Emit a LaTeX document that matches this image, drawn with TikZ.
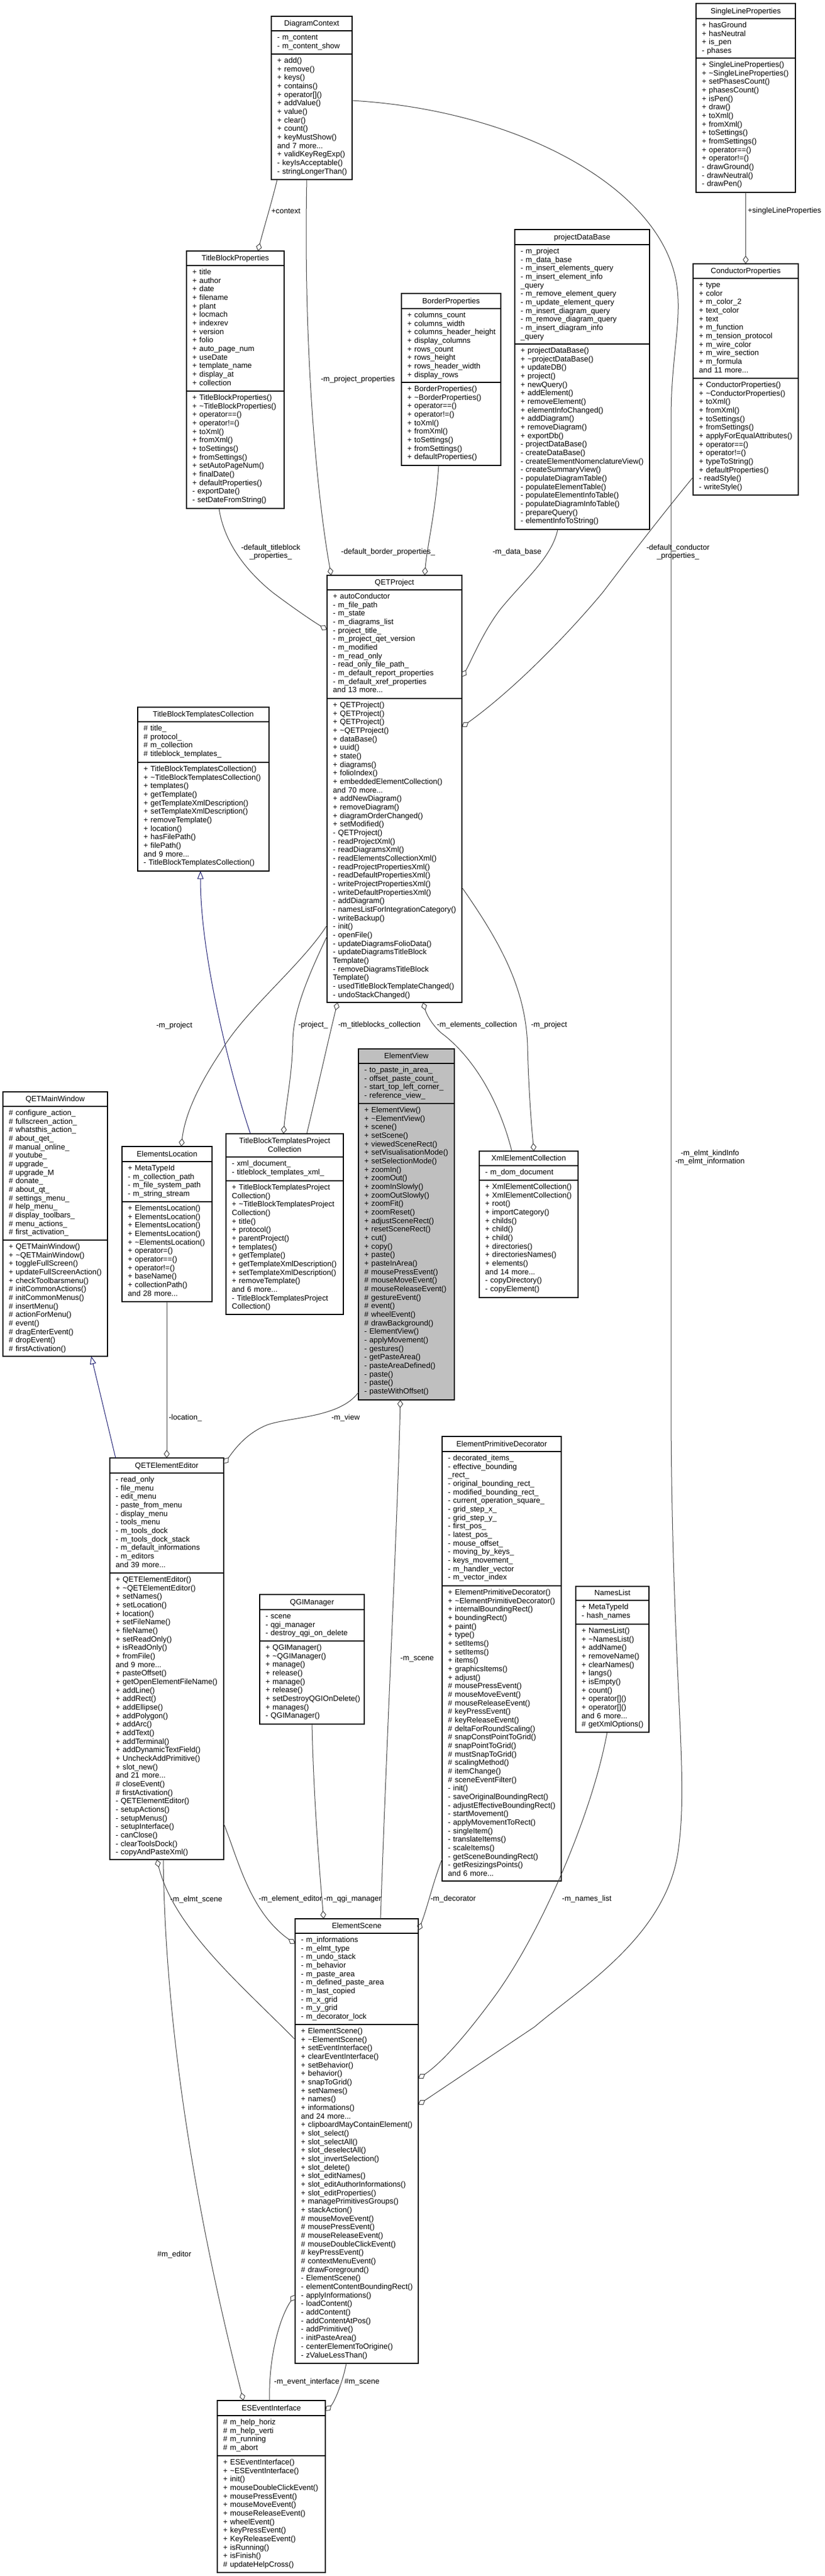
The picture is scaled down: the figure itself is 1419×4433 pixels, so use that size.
\documentclass[tikz,border=0pt]{standalone}
\usepackage{fontspec}
\setmainfont{Liberation Sans}
\usetikzlibrary{arrows.meta}
\definecolor{edgec}{HTML}{404040}
\definecolor{navyc}{HTML}{191970}
\definecolor{evgray}{HTML}{BFBFBF}
\newcommand\dfont{\fontsize{13.1pt}{14.67pt}\selectfont}
\newcommand\tld{\textasciitilde}
\tikzset{
  umlframe/.style={draw=black, line width=1.2pt, inner sep=0pt, outer sep=0pt},
  sepline/.style={draw=black, line width=1.2pt},
  ttl/.style={font=\dfont, inner sep=0pt, align=center},
  lines/.style={font=\dfont, inner sep=0pt, text width=320pt, align=left},
  lbl/.style={font=\dfont, inner sep=0pt, align=center},
  agg/.style={draw=edgec, line width=1pt, -{Diamond[open, length=14pt, width=10pt]}},
  inh/.style={draw=navyc, line width=1pt, -{Triangle[open, length=13.5pt, width=10.5pt]}}
}
% name, fill, x1, y1, x2, y2, sep1, sep2
\newcommand{\ubox}[8]{%
  \pgfmathsetmacro\bw{#5-#3}\pgfmathsetmacro\bh{#6-#4}%
  \pgfmathsetmacro\bx{(#3+#5)/2}\pgfmathsetmacro\by{(#4+#6)/2}%
  \node[umlframe, fill=#2, minimum width=\bw pt, minimum height=\bh pt] (#1) at (\bx,\by) {};
  \draw[sepline] (#3,#7) -- (#5,#7);
  \draw[sepline] (#3,#8) -- (#5,#8);
}
% name, x1, x2, baseline, text
\newcommand{\utitle}[5]{%
  \pgfmathsetmacro\tcx{(#2+#3)/2}\pgfmathsetmacro\tw{#3-#2}%
  \node[ttl, text width=\tw pt, anchor=base] (#1) at (\tcx,#4) {#5};
}
% name, x, first baseline, text
\newcommand{\ulines}[4]{\node[lines, anchor=base west] (#1) at (#2,#3) {#4};}

\begin{document}
\begin{tikzpicture}[x=1pt, y=-1pt]
\fill[white] (0,0) rectangle (1419,4433);
\useasboundingbox (0,0) rectangle (1419,4433);

% ---------------- DiagramContext
\ubox{dc}{white}{467}{28}{606}{309}{53}{93}
\utitle{dcT}{467}{606}{44.5}{DiagramContext}
\ulines{dcA}{477}{68.5}{- m\_content\\- m\_content\_show}
\ulines{dcM}{477}{108.5}{+ add()\\+ remove()\\+ keys()\\+ contains()\\+ operator[]()\\+ addValue()\\+ value()\\+ clear()\\+ count()\\+ keyMustShow()\\and 7 more...\\+ validKeyRegExp()\\- keyIsAcceptable()\\- stringLongerThan()}

% ---------------- SingleLineProperties
\ubox{slp}{white}{1198}{6}{1369}{331}{32}{100}
\utitle{slpT}{1198}{1369}{23.5}{SingleLineProperties}
\ulines{slpA}{1208}{47.5}{+ hasGround\\+ hasNeutral\\+ is\_pen\\- phases}
\ulines{slpM}{1208}{115.5}{+ SingleLineProperties()\\+ \tld SingleLineProperties()\\+ setPhasesCount()\\+ phasesCount()\\+ isPen()\\+ draw()\\+ toXml()\\+ fromXml()\\+ toSettings()\\+ fromSettings()\\+ operator==()\\+ operator!=()\\- drawGround()\\- drawNeutral()\\- drawPen()}

% ---------------- TitleBlockProperties
\ubox{tbp}{white}{321}{432}{489}{875}{457}{673}
\utitle{tbpT}{321}{489}{448.5}{TitleBlockProperties}
\ulines{tbpA}{331}{472.5}{+ title\\+ author\\+ date\\+ filename\\+ plant\\+ locmach\\+ indexrev\\+ version\\+ folio\\+ auto\_page\_num\\+ useDate\\+ template\_name\\+ display\_at\\+ collection}
\ulines{tbpM}{331}{688.5}{+ TitleBlockProperties()\\+ \tld TitleBlockProperties()\\+ operator==()\\+ operator!=()\\+ toXml()\\+ fromXml()\\+ toSettings()\\+ fromSettings()\\+ setAutoPageNum()\\+ finalDate()\\+ defaultProperties()\\- exportDate()\\- setDateFromString()}

% ---------------- BorderProperties
\ubox{bp}{white}{691}{505}{862}{801}{531}{658}
\utitle{bpT}{691}{862}{522.5}{BorderProperties}
\ulines{bpA}{701}{546.5}{+ columns\_count\\+ columns\_width\\+ columns\_header\_height\\+ display\_columns\\+ rows\_count\\+ rows\_height\\+ rows\_header\_width\\+ display\_rows}
\ulines{bpM}{701}{673.5}{+ BorderProperties()\\+ \tld BorderProperties()\\+ operator==()\\+ operator!=()\\+ toXml()\\+ fromXml()\\+ toSettings()\\+ fromSettings()\\+ defaultProperties()}

% ---------------- projectDataBase
\ubox{pdb}{white}{886}{395}{1118}{911}{421}{592}
\utitle{pdbT}{886}{1118}{412.5}{projectDataBase}
\ulines{pdbA}{896}{436.5}{- m\_project\\- m\_data\_base\\- m\_insert\_elements\_query\\- m\_insert\_element\_info\\\_query\\- m\_remove\_element\_query\\- m\_update\_element\_query\\- m\_insert\_diagram\_query\\- m\_remove\_diagram\_query\\- m\_insert\_diagram\_info\\\_query}
\ulines{pdbM}{896}{607.5}{+ projectDataBase()\\+ \tld projectDataBase()\\+ updateDB()\\+ project()\\+ newQuery()\\+ addElement()\\+ removeElement()\\+ elementInfoChanged()\\+ addDiagram()\\+ removeDiagram()\\+ exportDb()\\- projectDataBase()\\- createDataBase()\\- createElementNomenclatureView()\\- createSummaryView()\\- populateDiagramTable()\\- populateElementTable()\\- populateElementInfoTable()\\- populateDiagramInfoTable()\\- prepareQuery()\\- elementInfoToString()}

% ---------------- ConductorProperties
\ubox{cp}{white}{1193}{454}{1374}{852}{479}{651}
\utitle{cpT}{1193}{1374}{470.5}{ConductorProperties}
\ulines{cpA}{1203}{494.5}{+ type\\+ color\\+ m\_color\_2\\+ text\_color\\+ text\\+ m\_function\\+ m\_tension\_protocol\\+ m\_wire\_color\\+ m\_wire\_section\\+ m\_formula\\and 11 more...}
\ulines{cpM}{1203}{666.5}{+ ConductorProperties()\\+ \tld ConductorProperties()\\+ toXml()\\+ fromXml()\\+ toSettings()\\+ fromSettings()\\+ applyForEqualAttributes()\\+ operator==()\\+ operator!=()\\+ typeToString()\\+ defaultProperties()\\- readStyle()\\- writeStyle()}

% ---------------- QETProject
\ubox{qp}{white}{563}{990}{795}{1725}{1015}{1202}
\utitle{qpT}{563}{795}{1006.5}{QETProject}
\ulines{qpA}{573}{1030.5}{+ autoConductor\\- m\_file\_path\\- m\_state\\- m\_diagrams\_list\\- project\_title\_\\- m\_project\_qet\_version\\- m\_modified\\- m\_read\_only\\- read\_only\_file\_path\_\\- m\_default\_report\_properties\\- m\_default\_xref\_properties\\and 13 more...}
\ulines{qpM}{573}{1217.5}{+ QETProject()\\+ QETProject()\\+ QETProject()\\+ \tld QETProject()\\+ dataBase()\\+ uuid()\\+ state()\\+ diagrams()\\+ folioIndex()\\+ embeddedElementCollection()\\and 70 more...\\+ addNewDiagram()\\+ removeDiagram()\\+ diagramOrderChanged()\\+ setModified()\\- QETProject()\\- readProjectXml()\\- readDiagramsXml()\\- readElementsCollectionXml()\\- readProjectPropertiesXml()\\- readDefaultPropertiesXml()\\- writeProjectPropertiesXml()\\- writeDefaultPropertiesXml()\\- addDiagram()\\- namesListForIntegrationCategory()\\- writeBackup()\\- init()\\- openFile()\\- updateDiagramsFolioData()\\- updateDiagramsTitleBlock\\Template()\\- removeDiagramsTitleBlock\\Template()\\- usedTitleBlockTemplateChanged()\\- undoStackChanged()}

% ---------------- TitleBlockTemplatesCollection
\ubox{tbtc}{white}{237}{1217}{463}{1499}{1242}{1312}
\utitle{tbtcT}{237}{463}{1233.5}{TitleBlockTemplatesCollection}
\ulines{tbtcA}{247}{1257.5}{\# title\_\\\# protocol\_\\\# m\_collection\\\# titleblock\_templates\_}
\ulines{tbtcM}{247}{1327.5}{+ TitleBlockTemplatesCollection()\\+ \tld TitleBlockTemplatesCollection()\\+ templates()\\+ getTemplate()\\+ getTemplateXmlDescription()\\+ setTemplateXmlDescription()\\+ removeTemplate()\\+ location()\\+ hasFilePath()\\+ filePath()\\and 9 more...\\- TitleBlockTemplatesCollection()}

% ---------------- QETMainWindow
\ubox{qmw}{white}{5}{1879}{185}{2334}{1904}{2134}
\utitle{qmwT}{5}{185}{1895.5}{QETMainWindow}
\ulines{qmwA}{15}{1919.5}{\# configure\_action\_\\\# fullscreen\_action\_\\\# whatsthis\_action\_\\\# about\_qet\_\\\# manual\_online\_\\\# youtube\_\\\# upgrade\_\\\# upgrade\_M\\\# donate\_\\\# about\_qt\_\\\# settings\_menu\_\\\# help\_menu\_\\\# display\_toolbars\_\\\# menu\_actions\_\\\# first\_activation\_}
\ulines{qmwM}{15}{2149.5}{+ QETMainWindow()\\+ \tld QETMainWindow()\\+ toggleFullScreen()\\+ updateFullScreenAction()\\+ checkToolbarsmenu()\\\# initCommonActions()\\\# initCommonMenus()\\\# insertMenu()\\\# actionForMenu()\\\# event()\\\# dragEnterEvent()\\\# dropEvent()\\\# firstActivation()}

% ---------------- ElementsLocation
\ubox{el}{white}{210}{1973}{365}{2240}{1999}{2068}
\utitle{elT}{210}{365}{1990.5}{ElementsLocation}
\ulines{elA}{220}{2014.5}{+ MetaTypeId\\- m\_collection\_path\\- m\_file\_system\_path\\- m\_string\_stream}
\ulines{elM}{220}{2083.5}{+ ElementsLocation()\\+ ElementsLocation()\\+ ElementsLocation()\\+ ElementsLocation()\\+ \tld ElementsLocation()\\+ operator=()\\+ operator==()\\+ operator!=()\\+ baseName()\\+ collectionPath()\\and 28 more...}

% ---------------- TitleBlockTemplatesProjectCollection
\ubox{tbtpc}{white}{389}{1951}{591}{2262}{1991}{2032}
\utitle{tbtpcT}{389}{591}{1967.8}{TitleBlockTemplatesProject\\Collection}
\ulines{tbtpcA}{399}{2006.5}{- xml\_document\_\\- titleblock\_templates\_xml\_}
\ulines{tbtpcM}{399}{2047.5}{+ TitleBlockTemplatesProject\\Collection()\\+ \tld TitleBlockTemplatesProject\\Collection()\\+ title()\\+ protocol()\\+ parentProject()\\+ templates()\\+ getTemplate()\\+ getTemplateXmlDescription()\\+ setTemplateXmlDescription()\\+ removeTemplate()\\and 6 more...\\- TitleBlockTemplatesProject\\Collection()}

% ---------------- ElementView
\ubox{ev}{evgray}{617}{1805}{782}{2409}{1830}{1899}
\utitle{evT}{617}{782}{1821.5}{ElementView}
\ulines{evA}{627}{1845.5}{- to\_paste\_in\_area\_\\- offset\_paste\_count\_\\- start\_top\_left\_corner\_\\- reference\_view\_}
\ulines{evM}{627}{1914.5}{+ ElementView()\\+ \tld ElementView()\\+ scene()\\+ setScene()\\+ viewedSceneRect()\\+ setVisualisationMode()\\+ setSelectionMode()\\+ zoomIn()\\+ zoomOut()\\+ zoomInSlowly()\\+ zoomOutSlowly()\\+ zoomFit()\\+ zoomReset()\\+ adjustSceneRect()\\+ resetSceneRect()\\+ cut()\\+ copy()\\+ paste()\\+ pasteInArea()\\\# mousePressEvent()\\\# mouseMoveEvent()\\\# mouseReleaseEvent()\\\# gestureEvent()\\\# event()\\\# wheelEvent()\\\# drawBackground()\\- ElementView()\\- applyMovement()\\- gestures()\\- getPasteArea()\\- pasteAreaDefined()\\- paste()\\- paste()\\- pasteWithOffset()}

% ---------------- XmlElementCollection
\ubox{xec}{white}{825}{1981}{995}{2233}{2006}{2031}
\utitle{xecT}{825}{995}{1997.5}{XmlElementCollection}
\ulines{xecA}{835}{2021.5}{- m\_dom\_document}
\ulines{xecM}{835}{2046.5}{+ XmlElementCollection()\\+ XmlElementCollection()\\+ root()\\+ importCategory()\\+ childs()\\+ child()\\+ child()\\+ directories()\\+ directoriesNames()\\+ elements()\\and 14 more...\\- copyDirectory()\\- copyElement()}

% ---------------- QETElementEditor
\ubox{qee}{white}{189}{2509}{385}{3200}{2535}{2707}
\utitle{qeeT}{189}{385}{2526.5}{QETElementEditor}
\ulines{qeeA}{199}{2550.5}{- read\_only\\- file\_menu\\- edit\_menu\\- paste\_from\_menu\\- display\_menu\\- tools\_menu\\- m\_tools\_dock\\- m\_tools\_dock\_stack\\- m\_default\_informations\\- m\_editors\\and 39 more...}
\ulines{qeeM}{199}{2722.5}{+ QETElementEditor()\\+ \tld QETElementEditor()\\+ setNames()\\+ setLocation()\\+ location()\\+ setFileName()\\+ fileName()\\+ setReadOnly()\\+ isReadOnly()\\+ fromFile()\\and 9 more...\\+ pasteOffset()\\+ getOpenElementFileName()\\+ addLine()\\+ addRect()\\+ addEllipse()\\+ addPolygon()\\+ addArc()\\+ addText()\\+ addTerminal()\\+ addDynamicTextField()\\+ UncheckAddPrimitive()\\+ slot\_new()\\and 21 more...\\\# closeEvent()\\\# firstActivation()\\- QETElementEditor()\\- setupActions()\\- setupMenus()\\- setupInterface()\\- canClose()\\- clearToolsDock()\\- copyAndPasteXml()}

% ---------------- ElementPrimitiveDecorator
\ubox{epd}{white}{761}{2472}{966}{3237}{2498}{2729}
\utitle{epdT}{761}{966}{2489.5}{ElementPrimitiveDecorator}
\ulines{epdA}{771}{2513.5}{- decorated\_items\_\\- effective\_bounding\\\_rect\_\\- original\_bounding\_rect\_\\- modified\_bounding\_rect\_\\- current\_operation\_square\_\\- grid\_step\_x\_\\- grid\_step\_y\_\\- first\_pos\_\\- latest\_pos\_\\- mouse\_offset\_\\- moving\_by\_keys\_\\- keys\_movement\_\\- m\_handler\_vector\\- m\_vector\_index}
\ulines{epdM}{771}{2744.5}{+ ElementPrimitiveDecorator()\\+ \tld ElementPrimitiveDecorator()\\+ internalBoundingRect()\\+ boundingRect()\\+ paint()\\+ type()\\+ setItems()\\+ setItems()\\+ items()\\+ graphicsItems()\\+ adjust()\\\# mousePressEvent()\\\# mouseMoveEvent()\\\# mouseReleaseEvent()\\\# keyPressEvent()\\\# keyReleaseEvent()\\\# deltaForRoundScaling()\\\# snapConstPointToGrid()\\\# snapPointToGrid()\\\# mustSnapToGrid()\\\# scalingMethod()\\\# itemChange()\\\# sceneEventFilter()\\- init()\\- saveOriginalBoundingRect()\\- adjustEffectiveBoundingRect()\\- startMovement()\\- applyMovementToRect()\\- singleItem()\\- translateItems()\\- scaleItems()\\- getSceneBoundingRect()\\- getResizingsPoints()\\and 6 more...}

% ---------------- QGIManager
\ubox{qgi}{white}{447}{2744}{627}{2967}{2770}{2824}
\utitle{qgiT}{447}{627}{2761.5}{QGIManager}
\ulines{qgiA}{457}{2785.5}{- scene\\- qgi\_manager\\- destroy\_qgi\_on\_delete}
\ulines{qgiM}{457}{2839.5}{+ QGIManager()\\+ \tld QGIManager()\\+ manage()\\+ release()\\+ manage()\\+ release()\\+ setDestroyQGIOnDelete()\\+ manages()\\- QGIManager()}

% ---------------- NamesList
\ubox{nl}{white}{991}{2730}{1117}{2981}{2754}{2795}
\utitle{nlT}{991}{1117}{2745.5}{NamesList}
\ulines{nlA}{1001}{2769.5}{+ MetaTypeId\\- hash\_names}
\ulines{nlM}{1001}{2810.5}{+ NamesList()\\+ \tld NamesList()\\+ addName()\\+ removeName()\\+ clearNames()\\+ langs()\\+ isEmpty()\\+ count()\\+ operator[]()\\+ operator[]()\\and 6 more...\\\# getXmlOptions()}

% ---------------- ElementScene
\ubox{es}{white}{508}{3302}{720}{4067}{3327}{3484}
\utitle{esT}{508}{720}{3318.5}{ElementScene}
\ulines{esA}{518}{3342.5}{- m\_informations\\- m\_elmt\_type\\- m\_undo\_stack\\- m\_behavior\\- m\_paste\_area\\- m\_defined\_paste\_area\\- m\_last\_copied\\- m\_x\_grid\\- m\_y\_grid\\- m\_decorator\_lock}
\ulines{esM}{518}{3499.5}{+ ElementScene()\\+ \tld ElementScene()\\+ setEventInterface()\\+ clearEventInterface()\\+ setBehavior()\\+ behavior()\\+ snapToGrid()\\+ setNames()\\+ names()\\+ informations()\\and 24 more...\\+ clipboardMayContainElement()\\+ slot\_select()\\+ slot\_selectAll()\\+ slot\_deselectAll()\\+ slot\_invertSelection()\\+ slot\_delete()\\+ slot\_editNames()\\+ slot\_editAuthorInformations()\\+ slot\_editProperties()\\+ managePrimitivesGroups()\\+ stackAction()\\\# mouseMoveEvent()\\\# mousePressEvent()\\\# mouseReleaseEvent()\\\# mouseDoubleClickEvent()\\\# keyPressEvent()\\\# contextMenuEvent()\\\# drawForeground()\\- ElementScene()\\- elementContentBoundingRect()\\- applyInformations()\\- loadContent()\\- addContent()\\- addContentAtPos()\\- addPrimitive()\\- initPasteArea()\\- centerElementToOrigine()\\- zValueLessThan()}

% ---------------- ESEventInterface
\ubox{esei}{white}{374}{4131}{560}{4427}{4157}{4226}
\utitle{eseiT}{374}{560}{4148.5}{ESEventInterface}
\ulines{eseiA}{384}{4172.5}{\# m\_help\_horiz\\\# m\_help\_verti\\\# m\_running\\\# m\_abort}
\ulines{eseiM}{384}{4241.5}{+ ESEventInterface()\\+ \tld ESEventInterface()\\+ init()\\+ mouseDoubleClickEvent()\\+ mousePressEvent()\\+ mouseMoveEvent()\\+ mouseReleaseEvent()\\+ wheelEvent()\\+ keyPressEvent()\\+ KeyReleaseEvent()\\+ isRunning()\\+ isFinish()\\\# updateHelpCross()}

% ================= connectors
\draw[agg] (dc.south -| 477,0) .. controls (470,340) and (452,400) .. (tbp.north -| 444,0);
\node[lbl] (l1) at (492,363) {+context};

\draw[agg] (dc.south -| 528,0) .. controls (522,600) and (545,850) .. (qp.north -| 570,0);
\node[lbl] (l2) at (616,653) {-m\_project\_properties};

\draw[agg] (dc.east |- 0,173) .. controls (900,190) and (1150,330) .. (1166,500)
   .. controls (1172,560) and (1155,620) .. (1155,720) -- (1155,2450)
   .. controls (1158,2900) and (1185,3050) .. (1168,3180)
   .. controls (1150,3330) and (1000,3420) .. (920,3488) -- (es.east |- 0,3622);
\node[lbl] (l3) at (1222,1992) {-m\_elmt\_kindInfo\\-m\_elmt\_information};

\draw[agg] (slp.south) -- (cp.north);
\node[lbl, anchor=west] (l4) at (1287,363) {+singleLineProperties};

\draw[agg] (cp.west |- 0,821) .. controls (1120,910) and (1060,990) .. (1037,1020)
   .. controls (970,1100) and (880,1190) .. (qp.east |- 0,1251);
\node[lbl] (l5) at (1167,950) {-default\_conductor\\\_properties\_};

\draw[agg] (pdb.south -| 960,0) .. controls (950,960) and (900,1000) .. (860,1050)
   .. controls (830,1090) and (810,1140) .. (qp.east |- 0,1165);
\node[lbl] (l6) at (890,950) {-m\_data\_base};

\draw[agg] (bp.south -| 755,0) .. controls (750,880) and (735,940) .. (qp.north -| 731,0);
\node[lbl] (l7) at (668,950) {-default\_border\_properties\_};

\draw[agg] (tbp.south -| 377,0) .. controls (385,930) and (420,980) .. (470,1020)
   .. controls (510,1050) and (540,1070) .. (qp.west |- 0,1084);
\node[lbl] (l8) at (466,950) {-default\_titleblock\\\_properties\_};

\draw[agg] (qp.west |- 0,1611) .. controls (530,1680) and (505,1740) .. (504,1790)
   .. controls (503,1850) and (492,1900) .. (tbtpc.north -| 488,0);
\node[lbl] (l9) at (539,1764) {-project\_};

\draw[agg] (tbtpc.north -| 528,0) .. controls (545,1880) and (565,1790) .. (qp.south -| 581,0);
\node[lbl] (l10) at (653,1764) {-m\_titleblocks\_collection};

\draw[agg] (xec.north -| 881,0) .. controls (850,1860) and (790,1800) .. (760,1778)
   .. controls (745,1765) and (735,1748) .. (qp.south -| 728,0);
\node[lbl] (l11) at (821,1764) {-m\_elements\_collection};

\draw[agg] (qp.east |- 0,1527) .. controls (860,1620) and (905,1700) .. (908,1800)
   .. controls (910,1880) and (915,1940) .. (xec.north -| 919,0);
\node[lbl] (l12) at (945,1764) {-m\_project};

\draw[agg] (qp.west |- 0,1592) .. controls (520,1660) and (420,1740) .. (380,1810)
   .. controls (340,1870) and (318,1920) .. (el.north -| 312,0);
\node[lbl] (l13) at (300,1765) {-m\_project};

\draw[inh] (tbtpc.north -| 431,0) .. controls (400,1860) and (345,1650) .. (tbtc.south -| 345,0);
\draw[inh] (qee.north -| 199,0) -- (qmw.south -| 157,0);

\draw[agg] (el.south -| 287,0) -- (qee.north -| 287,0);
\node[lbl] (l14) at (319,2440) {-location\_};

\draw[agg] (ev.west |- 0,2396) .. controls (585,2440) and (500,2438) .. (460,2452)
   .. controls (420,2468) and (400,2500) .. (qee.east |- 0,2519);
\node[lbl] (l15) at (595,2440) {-m\_view};

\draw[agg] (es.north -| 655,0) .. controls (665,3000) and (685,2600) .. (ev.south -| 689,0);
\node[lbl] (l16) at (718,2855) {-m\_scene};

\draw[agg] (epd.west |- 0,3199) .. controls (745,3240) and (735,3285) .. (es.east |- 0,3322);
\node[lbl] (l17) at (780,3268) {-m\_decorator};

\draw[agg] (nl.south -| 1045,0) .. controls (1020,3120) and (930,3330) .. (848,3440)
   .. controls (800,3505) and (760,3550) .. (es.east |- 0,3577);
\node[lbl] (l18) at (1010,3268) {-m\_names\_list};

\draw[agg] (qgi.south -| 537,0) .. controls (540,3100) and (550,3220) .. (es.north -| 557,0);
\node[lbl] (l19) at (607,3268) {-m\_qgi\_manager};

\draw[agg] (qee.east |- 0,3138) .. controls (410,3200) and (430,3290) .. (es.west |- 0,3345);
\node[lbl] (l20) at (500,3268) {-m\_element\_editor};

\draw[agg] (es.west |- 0,3510) .. controls (420,3420) and (300,3320) .. (qee.south -| 270,0);
\node[lbl] (l21) at (338,3269) {-m\_elmt\_scene};

\draw[agg] (qee.south -| 281,0) .. controls (285,3550) and (360,3900) .. (esei.north -| 419,0);
\node[lbl] (l22) at (300,3880) {\#m\_editor};

\draw[agg] (esei.north -| 464,0) .. controls (462,4060) and (480,3990) .. (es.west |- 0,3949);
\node[lbl] (l23) at (528,4099) {-m\_event\_interface};

\draw[agg] (es.south -| 596,0) .. controls (590,4100) and (575,4135) .. (esei.east |- 0,4149);
\node[lbl] (l24) at (623,4099) {\#m\_scene};
\end{tikzpicture}
\end{document}
